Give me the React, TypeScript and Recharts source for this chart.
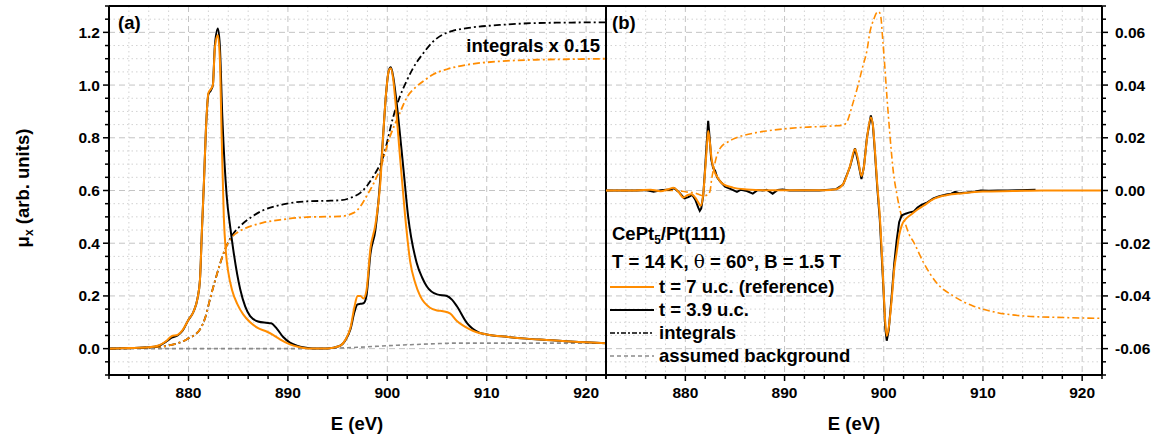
import React from 'react';
import { CartesianGrid, Line, LineChart, ReferenceLine, XAxis, YAxis } from 'recharts';

// ─── Colours / fonts ─────────────────────────────────────────────────────────

const ORANGE = '#ff8c00';
const BLACK = '#000000';
const GREY = '#8a8a8a';
const FONT = '"Liberation Sans", Arial, Helvetica, sans-serif';

// ─── Axes ────────────────────────────────────────────────────────────────────

const E_DOMAIN: [number, number] = [872, 922];
const MU_DOMAIN: [number, number] = [-0.1, 1.3];
const XMCD_DOMAIN: [number, number] = [-0.07, 0.07];

const xMajorTicks = [880, 890, 900, 910, 920];
const yMajorTicksA = [0, 0.2, 0.4, 0.6, 0.8, 1.0, 1.2];
const yMajorTicksB = [-0.06, -0.04, -0.02, 0, 0.02, 0.04, 0.06];

function steps(from: number, to: number, step: number): number[] {
  const out: number[] = [];
  const n = Math.round((to - from) / step);
  for (let i = 0; i <= n; i++) out.push(+(from + i * step).toFixed(4));
  return out;
}

const xAllTicks = steps(872, 922, 2);
const yAllTicksA = steps(-0.1, 1.3, 0.05);
const yAllTicksB = steps(-0.07, 0.07, 0.005);

const isIn = (v: number, list: number[]) => list.some((m) => Math.abs(m - v) < 1e-9);
const inner = (list: number[], dom: [number, number]) =>
  list.filter((v) => v > dom[0] + 1e-9 && v < dom[1] - 1e-9);

const xMinorGrid = inner(xAllTicks.filter((v) => !isIn(v, xMajorTicks)), E_DOMAIN);
const yMinorGridA = inner(yAllTicksA.filter((v) => !isIn(v, yMajorTicksA)), MU_DOMAIN);
const yMinorGridB = inner(yAllTicksB.filter((v) => !isIn(v, yMajorTicksB)), XMCD_DOMAIN);

// ─── Data: [E (eV), value] ───────────────────────────────────────────────────

// (a) XAS, t = 7 u.c. (reference)
const refXas: [number, number][] = [
  [872, 0], [874, 0.002], [876, 0.005], [877, 0.012], [877.8, 0.03], [878.3, 0.047],
  [878.9, 0.052], [879.4, 0.07], [880.0, 0.11], [880.5, 0.14], [880.9, 0.19],
  [881.15, 0.26], [881.35, 0.45], [881.55, 0.63], [881.75, 0.83], [882.0, 0.97],
  [882.25, 0.985], [882.45, 1.0], [882.65, 1.14], [882.95, 1.19], [883.15, 1.1],
  [883.35, 0.78], [883.55, 0.5], [883.75, 0.37], [884.0, 0.29], [884.4, 0.22],
  [884.9, 0.17], [885.5, 0.13], [886.2, 0.1], [887.0, 0.078], [887.9, 0.064],
  [888.5, 0.052], [889.2, 0.035], [890.2, 0.016], [891.0, 0.007], [892.0, 0.001],
  [894.0, 0.001], [895.2, 0.01], [895.8, 0.035], [896.3, 0.08], [896.7, 0.16],
  [897.0, 0.2], [897.3, 0.2], [897.6, 0.19], [897.9, 0.22], [898.3, 0.38],
  [898.8, 0.47], [899.3, 0.63], [899.6, 0.82], [899.9, 0.98], [900.15, 1.055],
  [900.35, 1.064], [900.6, 1.02], [900.8, 0.944], [901.3, 0.717], [901.8, 0.5],
  [902.3, 0.33], [902.8, 0.25], [903.3, 0.2], [904.3, 0.155], [905.0, 0.145],
  [905.6, 0.142], [906.3, 0.134], [907.0, 0.105], [907.6, 0.088], [908.3, 0.073],
  [909.0, 0.062], [910.0, 0.054], [912, 0.045], [914, 0.038], [916, 0.033],
  [918, 0.028], [920, 0.024], [922, 0.02],
];

// (a) XAS, t = 3.9 u.c.
const thinXas: [number, number][] = [
  [872, 0], [874, 0.002], [876, 0.005], [877, 0.011], [877.8, 0.028], [878.3, 0.042],
  [878.9, 0.05], [879.4, 0.068], [880.0, 0.11], [880.5, 0.14], [880.9, 0.19],
  [881.15, 0.26], [881.35, 0.45], [881.55, 0.63], [881.75, 0.83], [882.0, 0.965],
  [882.25, 0.98], [882.45, 1.0], [882.65, 1.15], [882.95, 1.215], [883.15, 1.15],
  [883.4, 0.88], [883.84, 0.58], [884.2, 0.46], [884.5, 0.376], [885.2, 0.225],
  [885.7, 0.16], [886.2, 0.123], [887.0, 0.103], [887.8, 0.098], [888.3, 0.096],
  [888.9, 0.075], [889.5, 0.045], [890.2, 0.023], [891.0, 0.01], [891.5, 0.005],
  [892.5, 0.001], [894.0, 0.001], [895.2, 0.01], [895.8, 0.033], [896.3, 0.075],
  [896.7, 0.14], [897.0, 0.168], [897.3, 0.17], [897.6, 0.172], [897.9, 0.2],
  [898.3, 0.36], [898.8, 0.45], [899.2, 0.6], [899.6, 0.82], [899.9, 0.98],
  [900.15, 1.055], [900.35, 1.068], [900.6, 1.03], [900.9, 0.944], [901.6, 0.69],
  [902.1, 0.5], [902.95, 0.326], [903.5, 0.27], [903.96, 0.237], [905.0, 0.206],
  [906.0, 0.2], [906.5, 0.186], [907.0, 0.161], [908.0, 0.098], [909.3, 0.06],
  [910.0, 0.054], [912, 0.045], [914, 0.038], [916, 0.033], [918, 0.028],
  [920, 0.024], [922, 0.02],
];

// (a) integrals x 0.15
const thinInt: [number, number][] = [
  [872, 0], [876, 0.004], [878, 0.012], [879.8, 0.035], [881.15, 0.073], [881.7, 0.12],
  [882.16, 0.187], [882.8, 0.275], [883.67, 0.376], [884.34, 0.427], [885.2, 0.465],
  [886.2, 0.496], [887.5, 0.525], [889.5, 0.547], [891.9, 0.559], [894, 0.561],
  [895.3, 0.563], [896.5, 0.575], [897.25, 0.59], [898.0, 0.62], [898.6, 0.654],
  [899.6, 0.73], [900.6, 0.88], [901.3, 0.96], [902.0, 1.02], [902.6, 1.065],
  [903.6, 1.12], [904.6, 1.165], [905.5, 1.19], [906.5, 1.205], [908.0, 1.216],
  [911.3, 1.228], [914.7, 1.235], [918, 1.237], [922, 1.238],
];

const refInt: [number, number][] = [
  [872, 0], [876, 0.004], [878, 0.012], [879.8, 0.035], [881.15, 0.073], [881.7, 0.12],
  [882.16, 0.187], [882.8, 0.275], [883.67, 0.376], [884.34, 0.422], [885.2, 0.447],
  [886.2, 0.464], [887.5, 0.478], [889.5, 0.49], [891.9, 0.499], [895.2, 0.502],
  [896.6, 0.515], [897.3, 0.54], [897.9, 0.578], [898.6, 0.625], [899.26, 0.68],
  [900.27, 0.805], [901.1, 0.88], [902.0, 0.955], [902.95, 0.995], [903.8, 1.02],
  [904.6, 1.04], [906, 1.06], [908, 1.077], [911.3, 1.09], [915, 1.096], [918, 1.098],
  [922, 1.1],
];

// (a) assumed background
const background: [number, number][] = [
  [872, 0], [893, 0], [895, 0.002], [897, 0.005], [899, 0.009], [901, 0.013],
  [903, 0.016], [905, 0.019], [907, 0.021], [914, 0.021], [922, 0.021],
];

// (b) XMCD, t = 7 u.c. (reference)
const refMcd: [number, number][] = [
  [872, 0], [875, 0], [876.5, 0.0003], [877.5, -0.0003], [878.3, 0.0005], [878.8, 0.001],
  [879.3, -0.0005], [879.8, -0.0027], [880.2, -0.0018], [880.6, -0.0014], [881.0, -0.0027],
  [881.3, -0.0045], [881.55, -0.0058], [881.8, -0.0015], [882.0, 0.008], [882.15, 0.0157],
  [882.3, 0.0226], [882.45, 0.019], [882.65, 0.0119], [882.9, 0.0075], [883.16, 0.0055],
  [883.8, 0.0024], [884.8, 0.0011], [886.2, 0.0004], [888, 0.0001], [894, 0.0001],
  [895.2, 0.0005], [895.9, 0.0024], [896.6, 0.0093], [897.1, 0.0157], [897.4, 0.012],
  [897.75, 0.0055], [898.0, 0.009], [898.3, 0.0195], [898.7, 0.0277], [898.9, 0.025],
  [899.1, 0.0157], [899.35, 0.002], [899.6, -0.0096], [899.95, -0.0349], [900.15, -0.05],
  [900.3, -0.0552], [900.5, -0.052], [900.8, -0.0413], [901.05, -0.03], [901.3, -0.0235],
  [901.55, -0.017], [901.8, -0.0134], [902.3, -0.0105], [902.6, -0.0096], [903.3, -0.0075],
  [904.0, -0.0058], [905.0, -0.0033], [906.3, -0.0018], [908.0, -0.001], [910.0, -0.0004],
  [913, -0.0002], [916, 0], [922, 0],
];

// (b) XMCD, t = 3.9 u.c.
const thinMcd: [number, number][] = [
  [872, 0], [875, 0], [876, 0.0002], [876.8, -0.0005], [877.5, 0.0001], [878.4, 0.0004],
  [878.9, 0.0008], [879.4, -0.0008], [879.9, -0.003], [880.3, -0.0025], [880.7, -0.0017],
  [881.0, -0.0035], [881.3, -0.0065], [881.45, -0.0077], [881.6, -0.0068], [881.8, -0.002],
  [882.0, 0.009], [882.15, 0.018], [882.3, 0.0264], [882.45, 0.02], [882.6, 0.012],
  [882.8, 0.0085], [883.0, 0.0075], [883.2, 0.005], [883.5, 0.0035], [884.0, 0.0015],
  [884.6, 0.0005], [885.2, -0.0005], [885.6, 0.0003], [886.2, -0.0002], [886.8, -0.0012],
  [887.3, 0.0002], [887.8, 0], [888.2, 0.0003], [888.8, -0.0012], [889.3, 0.0002],
  [889.8, 0.0004], [890.5, 0], [892, 0.0001], [893.5, 0], [894.5, 0.0003], [895.2, 0.0005],
  [895.9, 0.0022], [896.6, 0.009], [897.1, 0.016], [897.4, 0.011], [897.75, 0.0043],
  [898.0, 0.009], [898.3, 0.02], [898.7, 0.0285], [898.9, 0.025], [899.1, 0.015],
  [899.35, 0.001], [899.6, -0.011], [899.95, -0.036], [900.15, -0.052], [900.3, -0.057],
  [900.5, -0.053], [900.8, -0.04], [901.05, -0.028], [901.3, -0.019], [901.55, -0.012],
  [901.8, -0.0095], [902.2, -0.0088], [902.6, -0.0083], [903.0, -0.008], [903.4, -0.0065],
  [903.8, -0.0055], [904.4, -0.0045], [905.0, -0.003], [905.6, -0.0022], [906.3, -0.0015],
  [906.8, -0.0012], [907.2, -0.0005], [907.6, -0.001], [908.4, -0.0008], [909.2, -0.0004],
  [909.8, 0], [910.6, -0.0001], [911.5, 0], [912.5, 0], [913.5, 0.0001], [914.5, 0.0002],
  [915.3, 0.0003],
];

// (b) integral of the reference XMCD
const refMcdInt: [number, number][] = [
  [872, 0], [879, 0], [880, -0.0005], [881, -0.001], [881.8, -0.002], [882.3, -0.0015],
  [882.5, 0], [882.65, 0.0043], [882.9, 0.009], [883.16, 0.0131], [883.6, 0.0165],
  [884.2, 0.0182], [884.8, 0.0195], [885.5, 0.0205], [887.2, 0.022], [888.2, 0.0226],
  [891.6, 0.0239], [894.9, 0.0245], [895.9, 0.0248], [896.4, 0.027], [896.8, 0.032],
  [897.3, 0.0384], [897.9, 0.0473], [898.3, 0.053], [898.6, 0.06], [899.0, 0.065],
  [899.3, 0.0675], [899.5, 0.0678], [899.7, 0.066], [899.9, 0.057], [900.1, 0.0473],
  [900.35, 0.034], [900.6, 0.022], [901.0, 0.006], [901.3, -0.001], [901.8, -0.0096],
  [902.0, -0.011], [902.6, -0.017], [903.0, -0.0195], [904.0, -0.0273], [905.3, -0.0349],
  [907.0, -0.04], [909.0, -0.0438], [911.4, -0.0463], [914.1, -0.0476], [918.1, -0.0482],
  [922, -0.0485],
];

const rows = (pts: [number, number][]) => pts.map(([e, v]) => ({ e, v }));

// ─── Ticks ───────────────────────────────────────────────────────────────────

const tickText: React.CSSProperties = {
  fontFamily: FONT,
  fontSize: 15.5,
  fontWeight: 700,
  fill: '#000',
};

function BottomTick({ x, y, payload }: any) {
  const major = isIn(payload.value, xMajorTicks);
  return (
    <g>
      <line x1={x} x2={x} y1={y} y2={y + (major ? 6 : 4)} stroke="#000" strokeWidth={1.5} />
      {major && (
        <text x={x} y={y + 23} textAnchor="middle" style={tickText}>
          {payload.value}
        </text>
      )}
    </g>
  );
}

function LeftTick({ x, y, payload }: any) {
  const major = isIn(payload.value, yMajorTicksA);
  return (
    <g>
      <line x1={x} x2={x - (major ? 6 : 4)} y1={y} y2={y} stroke="#000" strokeWidth={1.5} />
      {major && (
        <text x={x - 9} y={y + 5.5} textAnchor="end" style={tickText}>
          {payload.value.toFixed(1)}
        </text>
      )}
    </g>
  );
}

function RightTick({ x, y, payload }: any) {
  const major = isIn(payload.value, yMajorTicksB);
  return (
    <g>
      <line x1={x} x2={x + (major ? 6 : 4)} y1={y} y2={y} stroke="#000" strokeWidth={1.5} />
      {major && (
        <text x={x + 13} y={y + 5.5} textAnchor="start" style={tickText}>
          {payload.value.toFixed(2)}
        </text>
      )}
    </g>
  );
}

const axisStroke = { stroke: '#000', strokeWidth: 2 };

function Grid({ yMajor, yMinor }: { yMajor: number[]; yMinor: number[] }) {
  return (
    <>
      <CartesianGrid
        verticalValues={xMinorGrid}
        horizontalValues={yMinor}
        stroke="#d2d2d2"
        strokeDasharray="1.5 3"
      />
      <CartesianGrid
        verticalValues={xMajorTicks}
        horizontalValues={yMajor}
        stroke="#c4c4c4"
        strokeDasharray="6 4"
      />
    </>
  );
}

// ─── Panels ──────────────────────────────────────────────────────────────────

function PanelA() {
  return (
    <LineChart width={620} height={441} margin={{ top: 6, right: 14, bottom: 26, left: 0 }}>
      <Grid yMajor={yMajorTicksA} yMinor={yMinorGridA} />
      <XAxis
        type="number"
        dataKey="e"
        domain={E_DOMAIN}
        ticks={xAllTicks}
        interval={0}
        allowDataOverflow
        height={40}
        tickSize={0}
        tickMargin={0}
        tickLine={false}
        axisLine={axisStroke}
        tick={(p: any) => <BottomTick {...p} />}
      />
      <YAxis
        type="number"
        domain={MU_DOMAIN}
        ticks={yAllTicksA}
        interval={0}
        allowDataOverflow
        width={109}
        tickSize={0}
        tickMargin={0}
        tickLine={false}
        axisLine={axisStroke}
        tick={(p: any) => <LeftTick {...p} />}
      />
      <ReferenceLine y={MU_DOMAIN[1]} stroke="#000" strokeWidth={2} />
      <ReferenceLine x={E_DOMAIN[1]} stroke="#000" strokeWidth={2} />
      <Line data={rows(background)} dataKey="v" type="monotone" stroke={GREY} strokeWidth={1.6}
        strokeDasharray="4 3" dot={false} isAnimationActive={false} />
      <Line data={rows(thinInt)} dataKey="v" type="monotone" stroke={BLACK} strokeWidth={1.8}
        strokeDasharray="7 3 2 3" dot={false} isAnimationActive={false} />
      <Line data={rows(refInt)} dataKey="v" type="monotone" stroke={ORANGE} strokeWidth={1.8}
        strokeDasharray="7 3 2 3" dot={false} isAnimationActive={false} />
      <Line data={rows(thinXas)} dataKey="v" type="monotone" stroke={BLACK} strokeWidth={2}
        dot={false} isAnimationActive={false} />
      <Line data={rows(refXas)} dataKey="v" type="monotone" stroke={ORANGE} strokeWidth={2}
        dot={false} isAnimationActive={false} />
    </LineChart>
  );
}

function PanelB() {
  return (
    <LineChart width={569} height={441} margin={{ top: 6, right: 0, bottom: 26, left: 16 }}>
      <Grid yMajor={yMajorTicksB} yMinor={yMinorGridB} />
      <XAxis
        type="number"
        dataKey="e"
        domain={E_DOMAIN}
        ticks={xAllTicks}
        interval={0}
        allowDataOverflow
        height={40}
        tickSize={0}
        tickMargin={0}
        tickLine={false}
        axisLine={axisStroke}
        tick={(p: any) => <BottomTick {...p} />}
      />
      <YAxis
        orientation="right"
        type="number"
        domain={XMCD_DOMAIN}
        ticks={yAllTicksB}
        interval={0}
        allowDataOverflow
        width={57}
        tickSize={0}
        tickMargin={0}
        tickLine={false}
        axisLine={axisStroke}
        tick={(p: any) => <RightTick {...p} />}
      />
      <ReferenceLine y={XMCD_DOMAIN[1]} stroke="#000" strokeWidth={2} />
      <ReferenceLine x={E_DOMAIN[0]} stroke="#000" strokeWidth={2} />
      <Line data={rows(refMcdInt)} dataKey="v" type="monotone" stroke={ORANGE} strokeWidth={1.6}
        strokeDasharray="7 3 2 3" dot={false} isAnimationActive={false} />
      <Line data={rows(thinMcd)} dataKey="v" type="linear" stroke={BLACK} strokeWidth={2}
        dot={false} isAnimationActive={false} />
      <Line data={rows(refMcd)} dataKey="v" type="monotone" stroke={ORANGE} strokeWidth={2}
        dot={false} isAnimationActive={false} />
    </LineChart>
  );
}

// ─── Labels and legend ───────────────────────────────────────────────────────

const labelText: React.CSSProperties = {
  fontFamily: FONT,
  fontSize: 18.5,
  fontWeight: 700,
  fill: '#000',
};

const legendRows = [
  { label: 't = 7 u.c. (reference)', color: ORANGE, dash: undefined, width: 2 },
  { label: 't = 3.9 u.c.', color: BLACK, dash: undefined, width: 2 },
  { label: 'integrals', color: BLACK, dash: '5 2 2 2', width: 1.5 },
  { label: 'assumed background', color: GREY, dash: '4 3', width: 1.4 },
];

function Overlay() {
  return (
    <svg
      width={1159}
      height={441}
      style={{ position: 'absolute', left: 0, top: 0, pointerEvents: 'none' }}
    >
      <text transform="translate(29,188) rotate(-90)" textAnchor="middle" style={labelText}>
        μ<tspan fontSize={12} dy={4}>x</tspan>
        <tspan dy={-4}> (arb. units)</tspan>
      </text>
      <text x={357} y={430} textAnchor="middle" style={labelText}>E (eV)</text>
      <text x={854} y={430} textAnchor="middle" style={labelText}>E (eV)</text>

      <text x={118} y={29} style={labelText}>(a)</text>
      <text x={612} y={29} style={labelText}>(b)</text>
      <text x={600} y={52} textAnchor="end" style={labelText}>integrals x 0.15</text>

      <text x={612} y={240} style={labelText}>
        CePt<tspan fontSize={12} dy={4}>5</tspan>
        <tspan dy={-4}>/Pt(111)</tspan>
      </text>
      <text x={612} y={268} style={labelText}>
        T = 14 K, <tspan fontFamily='"DejaVu Serif", serif' fontWeight={400}>θ</tspan> = 60°, B = 1.5 T
      </text>
      {legendRows.map((r, i) => {
        const base = 293 + i * 23;
        return (
          <g key={r.label}>
            <line x1={610} x2={654} y1={base - 6} y2={base - 6} stroke={r.color}
              strokeWidth={r.width} strokeDasharray={r.dash} />
            <text x={659} y={base} style={labelText}>{r.label}</text>
          </g>
        );
      })}
    </svg>
  );
}

export default function App() {
  return (
    <div style={{ position: 'absolute', left: 0, top: 0, width: 1159, height: 441, background: '#fff' }}>
      <div style={{ position: 'absolute', left: 0, top: 0 }}>
        <PanelA />
      </div>
      <div style={{ position: 'absolute', left: 590, top: 0 }}>
        <PanelB />
      </div>
      <Overlay />
    </div>
  );
}
